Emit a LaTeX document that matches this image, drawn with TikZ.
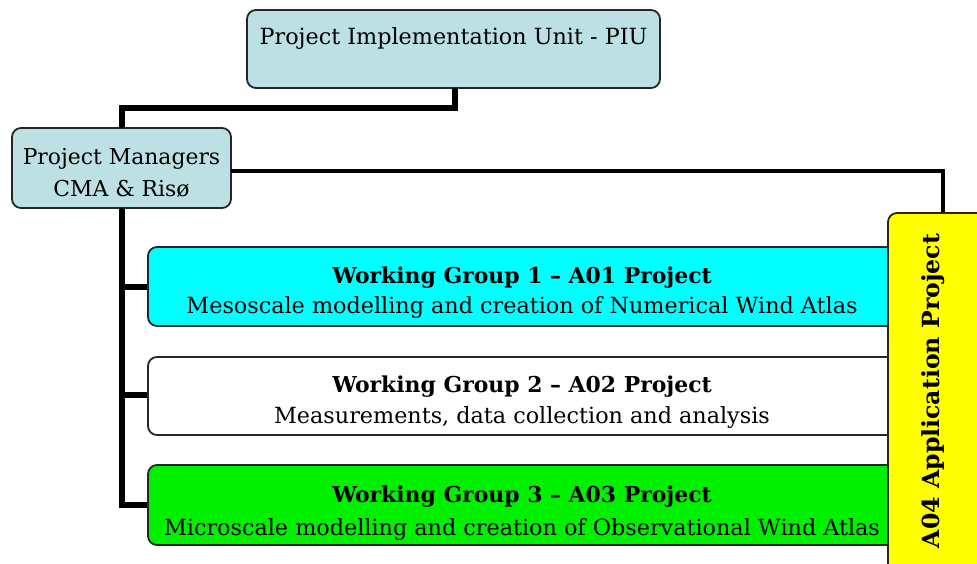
\documentclass[tikz,border=0pt]{standalone}
\usepackage{fontspec}
\setmainfont{DejaVu Serif}
\definecolor{piublue}{HTML}{BCE0E3}
\definecolor{wgcyan}{HTML}{00FFFF}
\definecolor{wggreen}{HTML}{00F000}
\definecolor{appyellow}{HTML}{FFFF00}
\begin{document}
\begin{tikzpicture}[x=1pt,y=-1pt,
  box/.style={draw=black!85,line width=1.8pt,rounded corners=9pt},
  thickline/.style={line width=5.5pt,black},
  thinline/.style={line width=3.4pt,black},
  lbl/.style={inner sep=0pt,anchor=base},
  rfont/.style={font=\fontsize{22.3}{26}\selectfont},
  pmfont/.style={font=\fontsize{21.9}{26}\selectfont},
  bfont/.style={font=\bfseries\fontsize{21.9}{26}\selectfont},
  vfont/.style={font=\bfseries\fontsize{23.6}{28}\selectfont},
]
\useasboundingbox (0,0) rectangle (977,564);
% connectors
\coordinate (c1) at (455,108);
\coordinate (c2) at (122,108);
\coordinate (c3) at (943,171);
\coordinate (vb) at (122,505);
% PIU
\draw[box,fill=piublue] (247,10) rectangle (660,88);
\node[lbl,rfont] (piut) at (453.5,45) {Project Implementation Unit - PIU};
% PM
\draw[box,fill=piublue] (12,128) rectangle (231,208);
\node[lbl,pmfont] (pm1) at (121.5,165) {Project Managers};
\node[lbl,pmfont] (pm2) at (121.5,197) {CMA \& Risø};
% connector lines
\draw[thickline] (455,88) -- (c1) -- (c2) -- (122,128);
\draw[thinline] (231,171) -- (c3) -- (943,213);
\draw[thickline] (122,208) -- (vb);
\draw[thickline] (122,287) -- (150,287);
\draw[thickline] (122,395) -- (150,395);
\draw[thickline] (119.25,505) -- (150,505);
% WG boxes
\draw[box,fill=wgcyan] (148,247) rectangle (900,326);
\draw[box,fill=white] (148,357) rectangle (900,435);
\draw[box,fill=wggreen] (148,465) rectangle (900,545);
\node[lbl,bfont] (wg1) at (522,283) {Working Group 1 – A01 Project};
\node[lbl,rfont] (wg1s) at (522,313) {Mesoscale modelling and creation of Numerical Wind Atlas};
\node[lbl,bfont] (wg2) at (522,392) {Working Group 2 – A02 Project};
\node[lbl,rfont] (wg2s) at (522,423) {Measurements, data collection and analysis};
\node[lbl,bfont] (wg3) at (522,502) {Working Group 3 – A03 Project};
\node[lbl,rfont] (wg3s) at (522,535) {Microscale modelling and creation of Observational Wind Atlas};
% yellow box
\draw[box,fill=appyellow] (888,213) rectangle (1000,575);
\node[inner sep=0pt,rotate=90,vfont] (a04) at (933,391) {A04 Application Project};
\end{tikzpicture}
\end{document}
